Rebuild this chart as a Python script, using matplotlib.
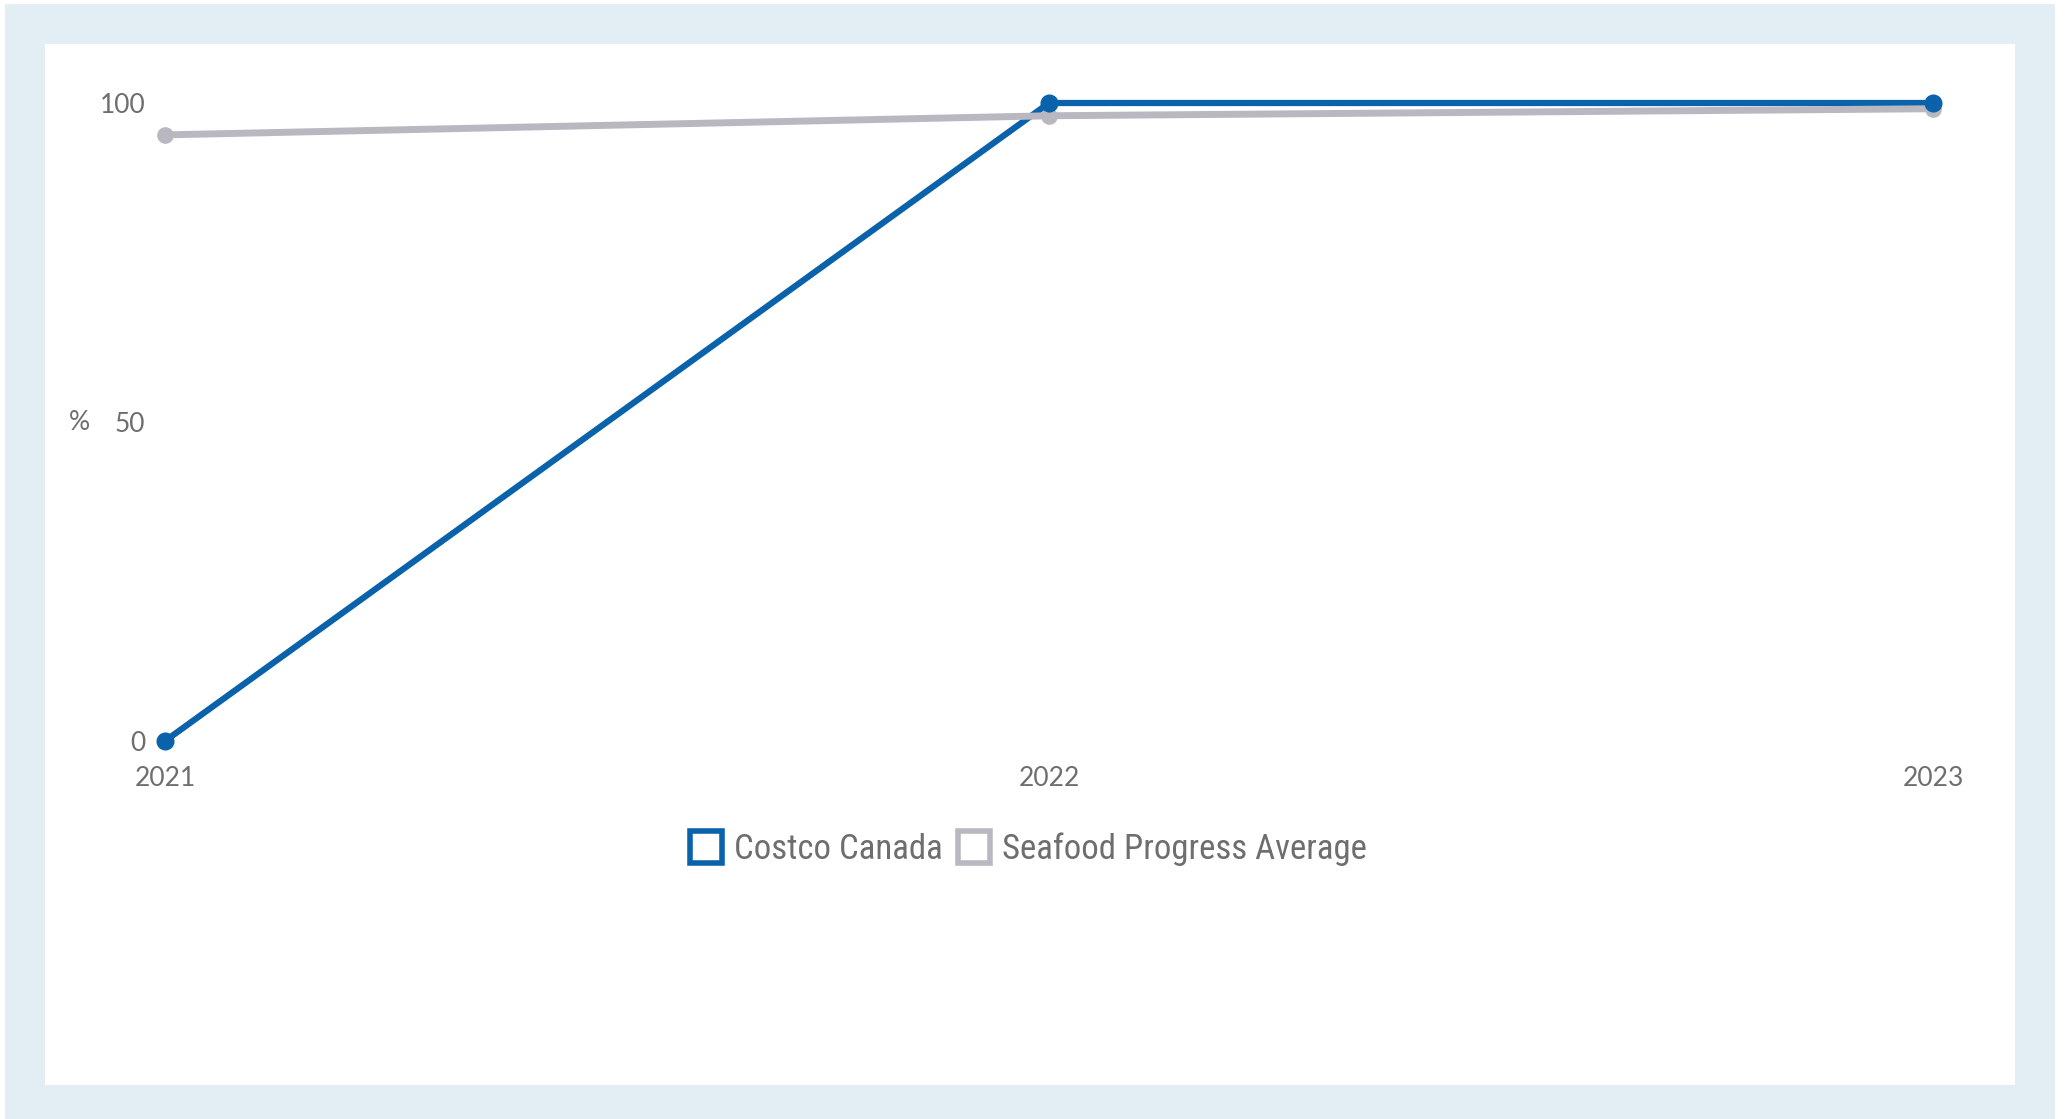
import matplotlib
matplotlib.use("Agg")
import matplotlib.pyplot as plt
from matplotlib import font_manager
from matplotlib.lines import Line2D
from matplotlib.patches import Rectangle

# Dados do gráfico
anos = [2021, 2022, 2023]
costco_canada = [0, 100, 100]
seafood_media = [95.0, 98.0, 99.1]
y_ticks = [0, 50, 100]

azul = "#0a62ab"
cinza = "#b9b8c1"
texto_cinza = "#6e6e6e"

# Fonte estreita para a legenda (usa a primeira que existir)
nomes = {f.name for f in font_manager.fontManager.ttflist}
narrow = [n for n in ["Liberation Sans Narrow", "Roboto Condensed", "DejaVu Sans Condensed",
                      "Open Sans Condensed", "Noto Sans Condensed"] if n in nomes]
fonte_legenda = narrow[0] if narrow else "Roboto"

fig = plt.figure(figsize=(20.65, 11.19), dpi=100, facecolor="white")

# Moldura azul clara e painel branco
fig.patches.append(Rectangle((5 / 2065, 0), 2050 / 2065, 1 - 4 / 1119,
                             transform=fig.transFigure, facecolor="#e3edf4",
                             edgecolor="none", zorder=-2))
fig.patches.append(Rectangle((45 / 2065, 1 - 1085 / 1119), 1970 / 2065, 1041 / 1119,
                             transform=fig.transFigure, facecolor="white",
                             edgecolor="none", zorder=-1))

ax = fig.add_axes([165 / 2065, 1 - 741 / 1119, 1768 / 2065, 638 / 1119])
ax.set_facecolor("none")

ax.plot(anos, costco_canada, color=azul, linewidth=4.5, solid_capstyle="round",
        zorder=2, clip_on=False)
ax.plot(anos, seafood_media, color=cinza, linewidth=5, marker="o", markersize=11,
        solid_capstyle="round", zorder=3, clip_on=False)
ax.plot(anos, costco_canada, color=azul, linestyle="none", marker="o",
        markersize=12, zorder=4, clip_on=False)

ax.set_xlim(anos[0], anos[-1])
ax.set_ylim(0, 100)
ax.set_xticks(anos)
ax.set_yticks(y_ticks)
ax.set_xticklabels([str(a) for a in anos], fontfamily="Lato", fontsize=19, color=texto_cinza)
ax.set_yticklabels([str(v) for v in y_ticks], fontfamily="Lato", fontsize=19, color=texto_cinza)
ax.tick_params(axis="both", length=0)
ax.tick_params(axis="x", pad=18)
ax.tick_params(axis="y", pad=14)
for s in ax.spines.values():
    s.set_visible(False)

fig.text(79 / 2065, 1 - 422 / 1119, "%", fontfamily="Lato", fontsize=19,
         color=texto_cinza, ha="center", va="center")

# Legenda com quadrados vazados
handles = [
    Line2D([], [], linestyle="none", marker="s", markersize=23, markerfacecolor="white",
           markeredgecolor=azul, markeredgewidth=4, label="Costco Canada"),
    Line2D([], [], linestyle="none", marker="s", markersize=23, markerfacecolor="white",
           markeredgecolor=cinza, markeredgewidth=4, label="Seafood Progress Average"),
]
leg = fig.legend(handles=handles, loc="center", bbox_to_anchor=(1028 / 2065, 1 - 849 / 1119),
                 ncol=2, frameon=False, handlelength=1.0, handletextpad=0.3,
                 columnspacing=0.4, prop={"family": fonte_legenda, "size": 25})
for t in leg.get_texts():
    t.set_color(texto_cinza)

fig.savefig("out.png", dpi=100, facecolor="white")
